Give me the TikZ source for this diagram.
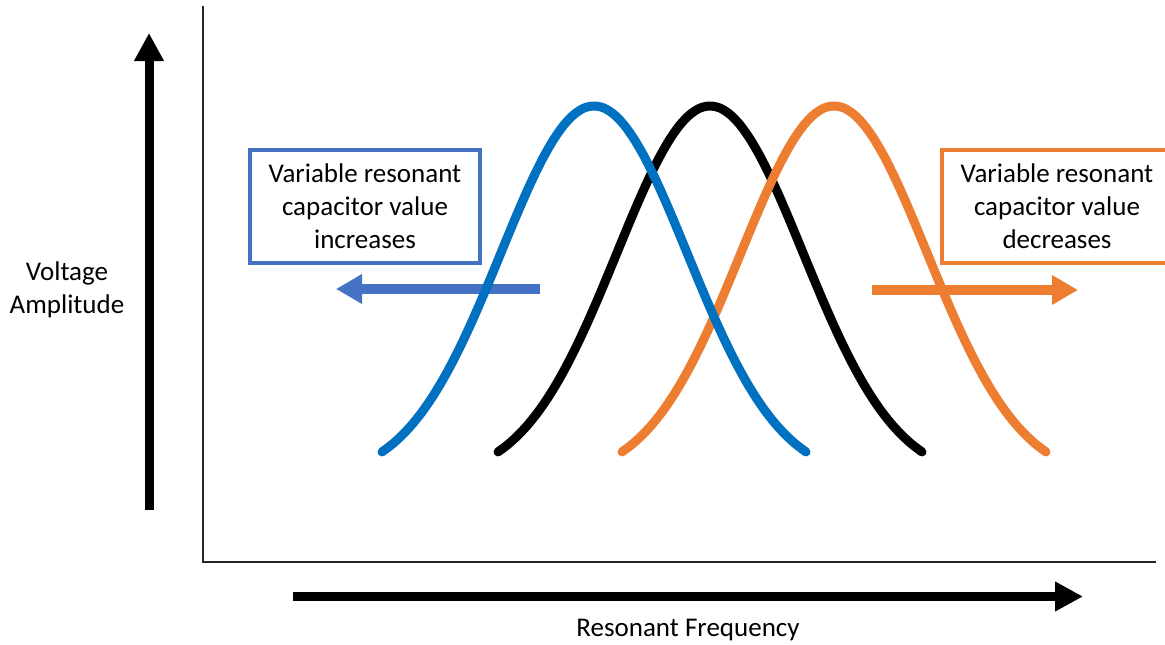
\documentclass[tikz,border=0pt]{standalone}
\usepackage{fontspec}
\setmainfont{Carlito}
\usetikzlibrary{arrows.meta}
\definecolor{curveblue}{HTML}{0070C0}
\definecolor{boxblue}{HTML}{4472C4}
\definecolor{curveorange}{HTML}{ED7D31}
\tikzset{
  lbl/.style={font=\fontsize{27}{33}\selectfont, align=center, inner sep=0pt},
  infobox/.style={lbl, draw=#1, line width=3.4pt, minimum width=230pt, minimum height=113pt},
  bigarrow/.style={line width=9pt, -{Triangle[length=28pt,width=28pt]}},
  shiftarrow/.style={draw=#1, line width=10pt, -{Triangle[length=26pt,width=28pt,fill=#1]}},
  bell/.style={draw=#1, line width=9pt, line cap=round, line join=round},
  axisline/.style={draw=black!85, line width=2.2pt},
}
% bell-shaped resonance curve centred at #1
\newcommand{\resbell}[2]{%
  \draw[bell=#2] plot[smooth, domain=-212:212, samples=43]
    ({#1+\x},{480-374*exp(-((\x/100)^2)/1.7352)});}
\begin{document}
\begin{tikzpicture}[x=1pt,y=-1pt]
\clip (0,0) rectangle (1165,645);
\fill[white] (0,0) rectangle (1165,645);

% axes
\coordinate (ytop) at (203,6);
\coordinate (origin) at (203,562);
\coordinate (xend) at (1156,562);
\draw[axisline] (ytop) -- (origin) -- (xend);

% axis direction arrows
\coordinate (vbot) at (149,510);
\coordinate (vtip) at (149,33);
\draw[bigarrow] (vbot) -- (vtip);
\coordinate (hstart) at (293,596.5);
\coordinate (htip) at (1083,596.5);
\draw[bigarrow] (hstart) -- (htip);

% axis labels
\node[lbl] (ylabel) at (67,290) {Voltage\\Amplitude};
\node[lbl] (xlabel) at (688,630) {Resonant Frequency};

% captions
\node[infobox=boxblue] (incbox) at (365,206.5) {Variable resonant\\capacitor value\\increases};
\node[infobox=curveorange] (decbox) at (1057,206.5) {Variable resonant\\capacitor value\\decreases};

% shift arrows
\coordinate (lstart) at (540,289);
\coordinate (ltip) at (336,289);
\draw[shiftarrow=boxblue] (lstart) -- (ltip);
\coordinate (rstart) at (872,290);
\coordinate (rtip) at (1078,290);
\draw[shiftarrow=curveorange] (rstart) -- (rtip);

% resonance curves
\resbell{710}{black}
\resbell{834}{curveorange}
\resbell{594}{curveblue}
\end{tikzpicture}
\end{document}
